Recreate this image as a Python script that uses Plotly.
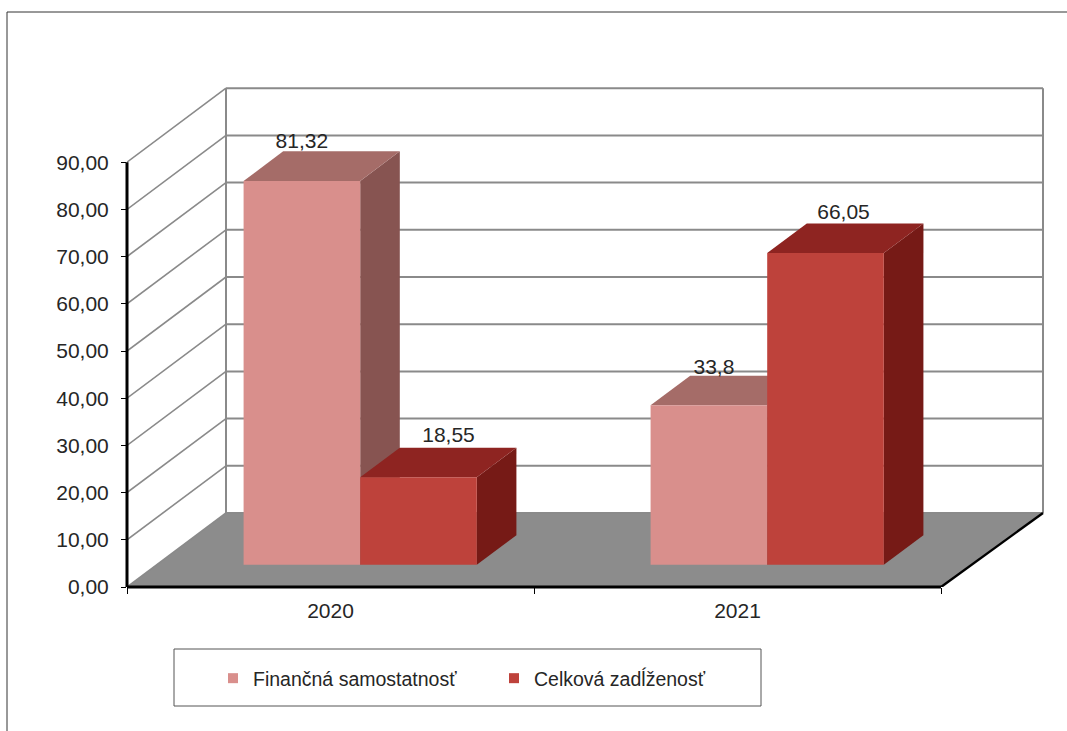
import plotly.graph_objects as go

years = ["2020", "2021"]
series_names = ["Finančná samostatnosť", "Celková zadĺženosť"]
fin_samostatnost = [81.32, 33.8]
celkova_zadlzenost = [18.55, 66.05]
y_ticks = [0, 10, 20, 30, 40, 50, 60, 70, 80, 90]

W, H = 1067, 731
L, R, T, B = 127, 21, 84, 144
PX_X = 407.0
PX_Y = 4.72
X_MAX = (W - L - R) / PX_X
Y_MAX = (H - T - B) / PX_Y
DEPTH_X = 99 / PX_X
DEPTH_Y = 74 / PX_Y
BACK_RIGHT = 2 + 3 / PX_X
BAR_W = 0.2865
D0, D1 = 0.30, 0.70

FONT = "Liberation Sans, Arial, sans-serif"
TEXT = "#262626"
GRID = "#8a8a8a"
COLORS = [
    dict(front="#D98F8C", top="#A56C68", side="#875451"),
    dict(front="#BE423B", top="#8E2421", side="#761A16"),
]
# label nudges from the front-top centre of each bar, in screen pixels
LABEL_NUDGE = [[(0, 38), (30, 40)], [(5, 37), (18, 39)]]


def pt(x, v, d):
    return x + d * DEPTH_X, v + d * DEPTH_Y


def poly(points, color):
    xs = [p[0] for p in points] + [points[0][0]]
    ys = [p[1] for p in points] + [points[0][1]]
    return go.Scatter(x=xs, y=ys, mode="lines", fill="toself", fillcolor=color,
                      line=dict(width=0, color=color), hoverinfo="skip",
                      showlegend=False, cliponaxis=False)


def line(points, color, width):
    return go.Scatter(x=[p[0] for p in points], y=[p[1] for p in points], mode="lines",
                      line=dict(color=color, width=width), hoverinfo="skip",
                      showlegend=False, cliponaxis=False)


fig = go.Figure()

# floor
fig.add_trace(poly([(0, 0), (2, 0), (BACK_RIGHT + DEPTH_X, DEPTH_Y), (DEPTH_X, DEPTH_Y)], "#8C8C8C"))

# walls and grid
for t in y_ticks:
    fig.add_trace(line([pt(0, t, 0), pt(0, t, 1)], GRID, 1.6))
    fig.add_trace(line([pt(0, t, 1), (BACK_RIGHT + DEPTH_X, t + DEPTH_Y)], GRID, 2))
fig.add_trace(line([pt(0, 0, 1), pt(0, 90, 1)], GRID, 2))
fig.add_trace(line([(BACK_RIGHT + DEPTH_X, DEPTH_Y), (BACK_RIGHT + DEPTH_X, 90 + DEPTH_Y)], GRID, 2))

# floor's right edge
fig.add_trace(line([(2, 0), (BACK_RIGHT + DEPTH_X, DEPTH_Y)], "#000000", 2.4))

# bars
labels_x, labels_y, labels_t = [], [], []
for c in range(len(years)):
    for s, vals in enumerate([fin_samostatnost, celkova_zadlzenost]):
        v = vals[c]
        x0 = c + 0.5 - BAR_W + s * BAR_W
        x1 = x0 + BAR_W
        col = COLORS[s]
        fig.add_trace(poly([pt(x1, 0, D0), pt(x1, 0, D1), pt(x1, v, D1), pt(x1, v, D0)], col["side"]))
        fig.add_trace(poly([pt(x0, v, D0), pt(x1, v, D0), pt(x1, v, D1), pt(x0, v, D1)], col["top"]))
        fig.add_trace(poly([pt(x0, 0, D0), pt(x1, 0, D0), pt(x1, v, D0), pt(x0, v, D0)], col["front"]))
        cx, cy = pt((x0 + x1) / 2, v, D0)
        nx, ny = LABEL_NUDGE[c][s]
        labels_x.append(cx + nx / PX_X)
        labels_y.append(cy + ny / PX_Y)
        labels_t.append(str(v).replace(".", ","))

fig.add_trace(go.Scatter(x=labels_x, y=labels_y, text=labels_t, mode="text",
                         textposition="middle center", cliponaxis=False, showlegend=False,
                         hoverinfo="skip", textfont=dict(family=FONT, size=21, color=TEXT)))

# legend entries
for name, col in zip(series_names, COLORS):
    fig.add_trace(go.Scatter(x=[None], y=[None], mode="markers", name=name,
                             marker=dict(symbol="square", size=10, color=col["front"])))


def px(x):
    return (x - L) / (W - L - R)


def py(y):
    return (H - B - y) / (H - T - B)


shapes = [
    dict(type="line", xref="paper", yref="paper", x0=px(7), x1=px(W), y0=py(12), y1=py(12),
         line=dict(color="#333333", width=1)),
    dict(type="line", xref="paper", yref="paper", x0=px(7), x1=px(7), y0=py(12), y1=py(H),
         line=dict(color="#333333", width=1)),
    dict(type="rect", xref="paper", yref="paper", x0=px(174), x1=px(761), y0=py(649), y1=py(706),
         line=dict(color="#555555", width=1), fillcolor="rgba(0,0,0,0)"),
    # front axis lines, not clipped by the plot area
    dict(type="line", xref="paper", yref="y", x0=0, x1=0, y0=0, y1=90,
         line=dict(color="#000000", width=3)),
    dict(type="line", xref="x", yref="paper", x0=0, x1=2, y0=0, y1=0,
         line=dict(color="#000000", width=3)),
]

fig.update_layout(
    width=W, height=H, autosize=False,
    margin=dict(l=L, r=R, t=T, b=B, pad=0),
    plot_bgcolor="white", paper_bgcolor="white",
    separators=",.",
    font=dict(family=FONT, size=21, color=TEXT),
    shapes=shapes,
    hovermode=False,
    legend=dict(orientation="h", x=px(213), y=py(659), xanchor="left", yanchor="top",
                borderwidth=0, bgcolor="rgba(0,0,0,0)",
                font=dict(family=FONT, size=19.5, color=TEXT),
                entrywidth=236, entrywidthmode="pixels", itemclick=False, itemdoubleclick=False),
    xaxis=dict(range=[0, X_MAX], showgrid=False, zeroline=False, showline=False,
               tickmode="array", tickvals=[0.5, 1.5], ticktext=years, ticks="", ticklen=0,
               ticklabelstandoff=9,
               minor=dict(tickmode="array", tickvals=[0, 1, 2], ticks="outside", ticklen=6,
                          tickcolor="#000000", tickwidth=1, showgrid=False)),
    yaxis=dict(range=[0, Y_MAX], showgrid=False, zeroline=False, showline=False,
               tickmode="array", tickvals=y_ticks, tickformat=".2f", ticks="outside",
               ticklen=5, tickcolor="#000000", tickwidth=1, ticklabelstandoff=8),
)

fig.write_html("out.html", config=dict(displayModeBar=False),
               post_script="document.body.style.margin='0';")
